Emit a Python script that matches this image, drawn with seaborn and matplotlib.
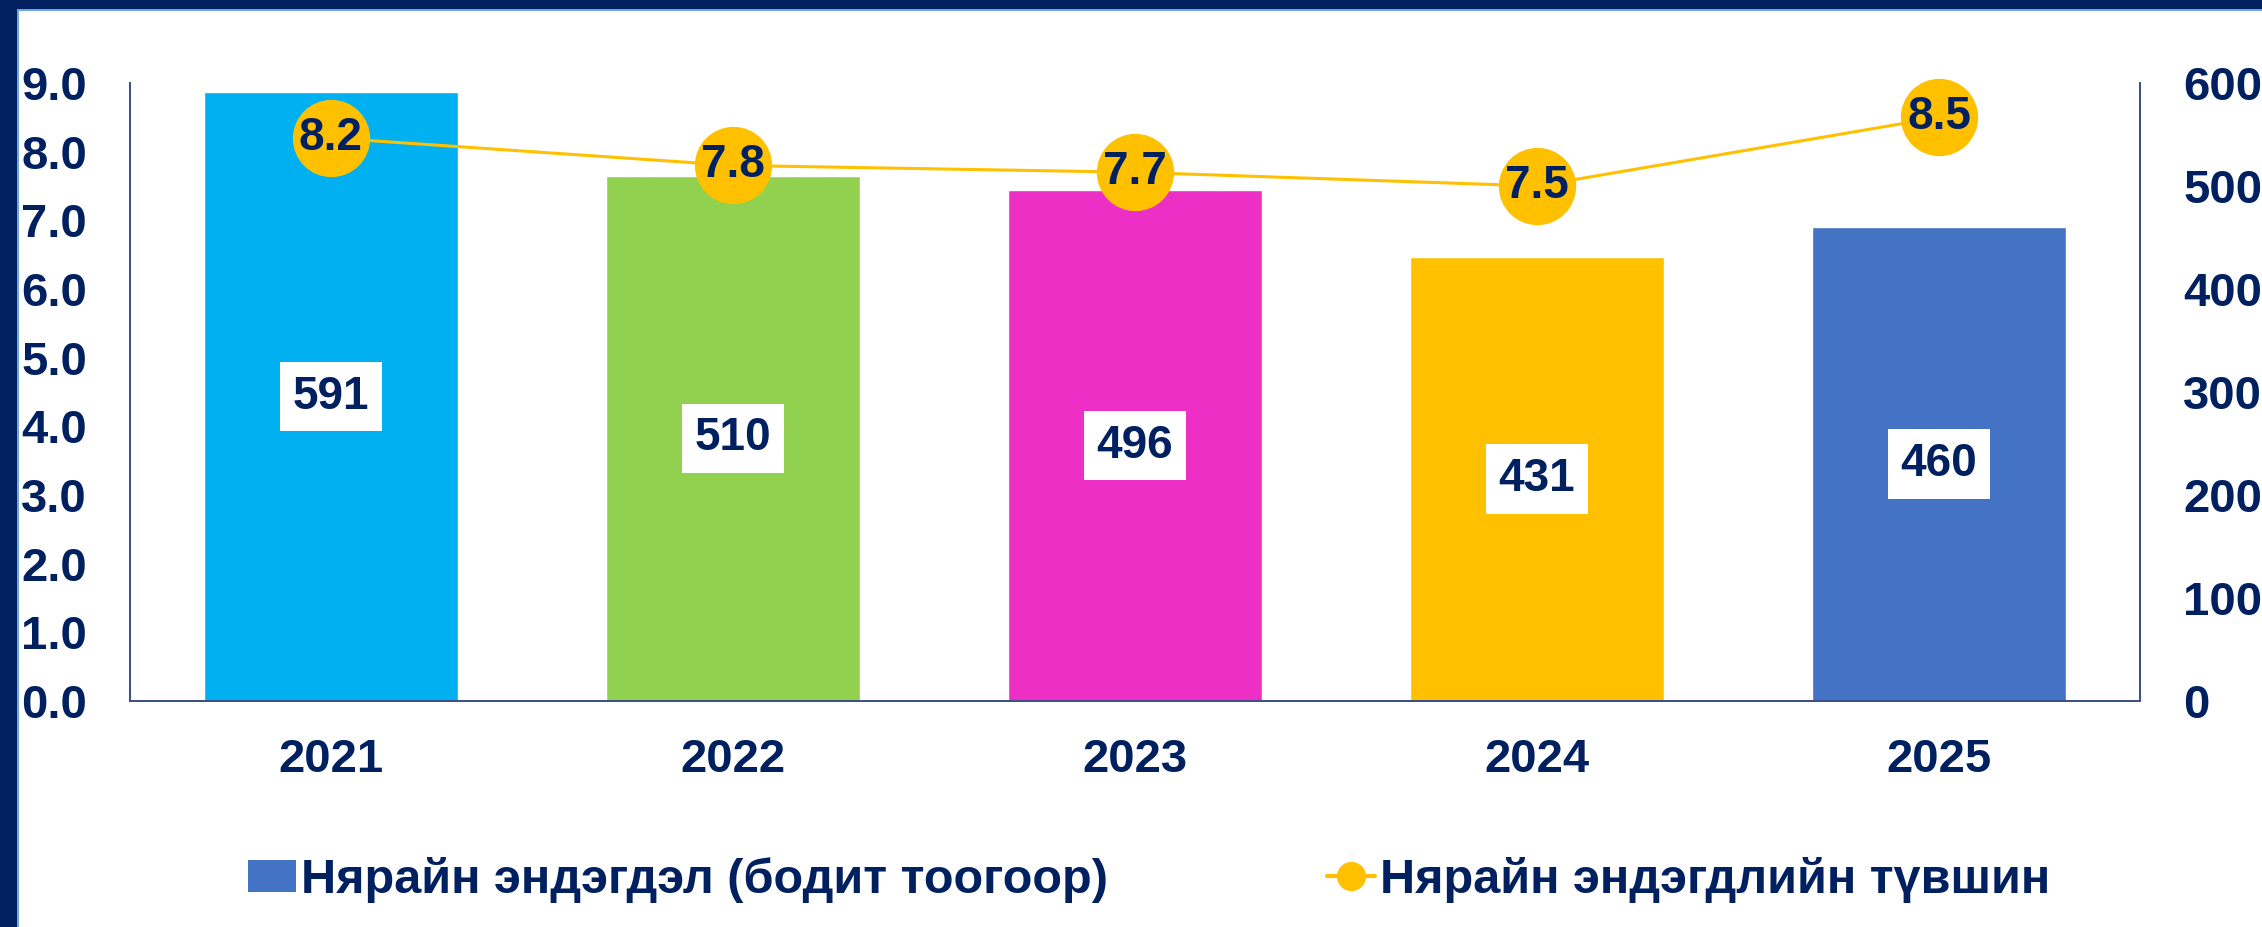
import matplotlib
matplotlib.use("Agg")
import matplotlib.pyplot as plt
from matplotlib.patches import Rectangle, Patch
from matplotlib.lines import Line2D
import seaborn as sns
import pandas as pd

# data
years = ["2021", "2022", "2023", "2024", "2025"]
deaths = [591, 510, 496, 431, 460]
rates = [8.2, 7.8, 7.7, 7.5, 8.5]
bar_colors = ["#00B0F0", "#92D050", "#EE2FC6", "#FFC000", "#4472C4"]
left_ticks = [0.0, 1.0, 2.0, 3.0, 4.0, 5.0, 6.0, 7.0, 8.0, 9.0]
right_ticks = [0, 100, 200, 300, 400, 500, 600]
bar_name = "Нярайн эндэгдэл (бодит тоогоор)"
line_name = "Нярайн эндэгдлийн түвшин"

navy = "#002060"
line_col = "#FFC000"

sns.set_style("white")
plt.rcParams["font.family"] = ["Liberation Sans", "DejaVu Sans"]
plt.rcParams["font.weight"] = "bold"

df = pd.DataFrame({"year": years, "deaths": deaths, "rate": rates})

fig = plt.figure(figsize=(22.62, 9.27), dpi=100)
W, H = 2262, 927
ax = fig.add_axes([130 / W, 1 - 701 / H, (2140 - 130) / W, (701 - 83) / H])

# bars (right axis scale)
sns.barplot(data=df, x="year", y="deaths", hue="year", palette=bar_colors,
            width=0.63, saturation=1, legend=False, ax=ax)
for i, v in enumerate(deaths):
    ax.text(i, v / 2, str(v), ha="center", va="center", fontsize=33,
            fontweight="bold", color=navy,
            bbox=dict(boxstyle="square,pad=0.28", fc="white", ec="none"))

# line (left axis scale)
ax2 = ax.twinx()
sns.pointplot(data=df, x="year", y="rate", color=line_col, markers="o",
              markersize=54, linewidth=2.2, ax=ax2)
for art in ax2.lines + ax2.collections:
    art.set_clip_on(False)
for i, v in enumerate(rates):
    ax2.text(i, v, f"{v:.1f}", ha="center", va="center", fontsize=33,
             fontweight="bold", color=navy, zorder=10)

# axes: bars on right scale, line on left scale
ax.set_ylim(0, 600)
ax.set_xlim(-0.5, 4.5)
ax.yaxis.tick_right()
ax.set_yticks(right_ticks)
ax.set_yticklabels([str(t) for t in right_ticks])
ax2.set_ylim(0, 9)
ax2.set_xlim(-0.5, 4.5)
ax2.yaxis.tick_left()
ax2.set_yticks(left_ticks)
ax2.set_yticklabels([f"{t:.1f}" for t in left_ticks])

for a in (ax, ax2):
    a.set_xlabel("")
    a.set_ylabel("")
    a.spines["top"].set_visible(False)
    for s in ("left", "right", "bottom"):
        a.spines[s].set_color("#3A5283")
        a.spines[s].set_linewidth(1.3)
    a.tick_params(axis="both", length=0, labelsize=34, labelcolor=navy)
    for lab in a.get_xticklabels() + a.get_yticklabels():
        lab.set_fontweight("bold")
ax.tick_params(axis="y", pad=31)
ax2.tick_params(axis="y", pad=31)
ax.tick_params(axis="x", pad=27)
ax2.tick_params(axis="x", labelbottom=False)

# legend
handles = [
    Patch(facecolor="#4472C4", edgecolor="none", label=bar_name),
    Line2D([0], [0], color=line_col, lw=3, marker="o", markersize=20,
           label=line_name),
]
leg = fig.legend(handles=handles, loc="center", bbox_to_anchor=(0.508, 1 - 880 / H),
                 ncol=2, frameon=False, fontsize=35, handlelength=1.0,
                 handleheight=0.65, handletextpad=0.1, columnspacing=4.5)
for t in leg.get_texts():
    t.set_color(navy)
    t.set_fontweight("bold")

# frame pieces
fig.add_artist(Rectangle((0, 0), 17 / W, 1, transform=fig.transFigure,
                         facecolor=navy, edgecolor="none", zorder=20))
fig.add_artist(Rectangle((0, 1 - 9 / H), 1, 9 / H, transform=fig.transFigure,
                         facecolor=navy, edgecolor="none", zorder=20))
fig.add_artist(Rectangle((17 / W, 0), 2 / W, 1 - 9 / H, transform=fig.transFigure,
                         facecolor="#6FA8DC", edgecolor="none", zorder=20))
fig.add_artist(Rectangle((17 / W, 1 - 11 / H), 1, 2 / H, transform=fig.transFigure,
                         facecolor="#6FA8DC", edgecolor="none", zorder=20))

fig.savefig("out.png", dpi=100)
